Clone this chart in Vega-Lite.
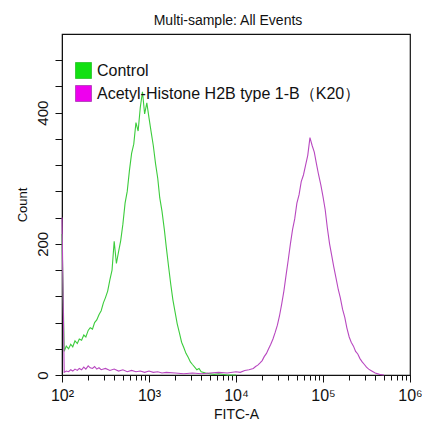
{
  "$schema": "https://vega.github.io/schema/vega-lite/v6.json",
  "width": 348,
  "height": 341,
  "autosize": {"type": "none"},
  "padding": {"left": 62, "top": 34, "right": 12, "bottom": 50},
  "background": "white",
  "title": {"text": "Multi-sample: All Events", "fontSize": 14, "font": "Liberation Sans", "fontWeight": "normal", "color": "#111", "offset": 6, "dx": -8},
  "config": {"view": {"stroke": "#111", "strokeWidth": 1.2}, "font": "Liberation Sans"},
  "data": {"values": [
    {"s":"C","x":1.00e2,"n":215},{"s":"C","x":1.06e2,"n":36},{"s":"C","x":1.12e2,"n":44},{"s":"C","x":1.19e2,"n":40},
    {"s":"C","x":1.26e2,"n":47},{"s":"C","x":1.33e2,"n":43},{"s":"C","x":1.41e2,"n":52},{"s":"C","x":1.50e2,"n":48},
    {"s":"C","x":1.58e2,"n":55},{"s":"C","x":1.68e2,"n":53},{"s":"C","x":1.78e2,"n":61},{"s":"C","x":1.88e2,"n":58},
    {"s":"C","x":2.00e2,"n":68},{"s":"C","x":2.11e2,"n":72},{"s":"C","x":2.24e2,"n":70},{"s":"C","x":2.37e2,"n":80},
    {"s":"C","x":2.51e2,"n":84},{"s":"C","x":2.66e2,"n":92},{"s":"C","x":2.82e2,"n":98},{"s":"C","x":2.99e2,"n":110},
    {"s":"C","x":3.16e2,"n":118},{"s":"C","x":3.35e2,"n":128},{"s":"C","x":3.55e2,"n":145},{"s":"C","x":3.76e2,"n":160},
    {"s":"C","x":3.98e2,"n":204},{"s":"C","x":4.22e2,"n":170},{"s":"C","x":4.47e2,"n":188},{"s":"C","x":4.73e2,"n":205},
    {"s":"C","x":5.01e2,"n":230},{"s":"C","x":5.31e2,"n":262},{"s":"C","x":5.62e2,"n":280},{"s":"C","x":5.96e2,"n":312},
    {"s":"C","x":6.31e2,"n":338},{"s":"C","x":6.68e2,"n":352},{"s":"C","x":7.08e2,"n":385},{"s":"C","x":7.50e2,"n":372},
    {"s":"C","x":7.94e2,"n":408},{"s":"C","x":8.41e2,"n":432},{"s":"C","x":8.91e2,"n":398},{"s":"C","x":9.44e2,"n":415},
    {"s":"C","x":1.00e3,"n":392},{"s":"C","x":1.06e3,"n":370},{"s":"C","x":1.12e3,"n":350},{"s":"C","x":1.19e3,"n":322},
    {"s":"C","x":1.26e3,"n":300},{"s":"C","x":1.33e3,"n":270},{"s":"C","x":1.41e3,"n":250},{"s":"C","x":1.50e3,"n":222},
    {"s":"C","x":1.58e3,"n":195},{"s":"C","x":1.68e3,"n":165},{"s":"C","x":1.78e3,"n":138},{"s":"C","x":1.88e3,"n":115},
    {"s":"C","x":2.00e3,"n":95},{"s":"C","x":2.11e3,"n":78},{"s":"C","x":2.24e3,"n":64},{"s":"C","x":2.37e3,"n":50},
    {"s":"C","x":2.51e3,"n":42},{"s":"C","x":2.66e3,"n":33},{"s":"C","x":2.82e3,"n":27},{"s":"C","x":2.99e3,"n":20},
    {"s":"C","x":3.16e3,"n":16},{"s":"C","x":3.35e3,"n":12},{"s":"C","x":3.55e3,"n":8},{"s":"C","x":3.76e3,"n":10},
    {"s":"C","x":3.98e3,"n":5},{"s":"C","x":4.47e3,"n":3},{"s":"C","x":5.01e3,"n":2},{"s":"C","x":5.62e3,"n":1},
    {"s":"C","x":6.31e3,"n":2},{"s":"C","x":7.94e3,"n":0},{"s":"C","x":1.00e4,"n":0},

    {"s":"A","x":1.00e2,"n":240},{"s":"A","x":1.06e2,"n":4},{"s":"A","x":1.12e2,"n":6},{"s":"A","x":1.19e2,"n":5},
    {"s":"A","x":1.26e2,"n":8},{"s":"A","x":1.33e2,"n":6},{"s":"A","x":1.41e2,"n":9},{"s":"A","x":1.50e2,"n":7},
    {"s":"A","x":1.58e2,"n":10},{"s":"A","x":1.68e2,"n":8},{"s":"A","x":1.78e2,"n":12},{"s":"A","x":1.88e2,"n":9},
    {"s":"A","x":2.00e2,"n":14},{"s":"A","x":2.11e2,"n":11},{"s":"A","x":2.24e2,"n":10},{"s":"A","x":2.37e2,"n":13},
    {"s":"A","x":2.51e2,"n":9},{"s":"A","x":2.66e2,"n":11},{"s":"A","x":2.82e2,"n":8},{"s":"A","x":3.16e2,"n":10},
    {"s":"A","x":3.55e2,"n":7},{"s":"A","x":3.98e2,"n":9},{"s":"A","x":4.47e2,"n":6},{"s":"A","x":5.01e2,"n":8},
    {"s":"A","x":5.62e2,"n":5},{"s":"A","x":6.31e2,"n":7},{"s":"A","x":7.08e2,"n":5},{"s":"A","x":7.94e2,"n":6},
    {"s":"A","x":8.91e2,"n":4},{"s":"A","x":1.00e3,"n":6},{"s":"A","x":1.12e3,"n":4},{"s":"A","x":1.26e3,"n":5},
    {"s":"A","x":1.41e3,"n":3},{"s":"A","x":1.58e3,"n":4},{"s":"A","x":2.00e3,"n":3},{"s":"A","x":2.51e3,"n":2},
    {"s":"A","x":3.16e3,"n":3},{"s":"A","x":3.98e3,"n":2},{"s":"A","x":5.01e3,"n":3},{"s":"A","x":6.31e3,"n":4},
    {"s":"A","x":7.94e3,"n":3},{"s":"A","x":1.00e4,"n":5},{"s":"A","x":1.12e4,"n":4},{"s":"A","x":1.26e4,"n":7},
    {"s":"A","x":1.41e4,"n":8},{"s":"A","x":1.58e4,"n":10},{"s":"A","x":1.68e4,"n":13},{"s":"A","x":1.78e4,"n":15},
    {"s":"A","x":1.88e4,"n":18},{"s":"A","x":2.00e4,"n":22},{"s":"A","x":2.11e4,"n":28},{"s":"A","x":2.24e4,"n":33},
    {"s":"A","x":2.37e4,"n":40},{"s":"A","x":2.51e4,"n":47},{"s":"A","x":2.66e4,"n":55},{"s":"A","x":2.82e4,"n":65},
    {"s":"A","x":2.99e4,"n":76},{"s":"A","x":3.16e4,"n":90},{"s":"A","x":3.35e4,"n":108},{"s":"A","x":3.55e4,"n":128},
    {"s":"A","x":3.76e4,"n":152},{"s":"A","x":3.98e4,"n":175},{"s":"A","x":4.22e4,"n":200},{"s":"A","x":4.47e4,"n":222},
    {"s":"A","x":4.73e4,"n":238},{"s":"A","x":5.01e4,"n":262},{"s":"A","x":5.31e4,"n":275},{"s":"A","x":5.62e4,"n":295},
    {"s":"A","x":5.96e4,"n":305},{"s":"A","x":6.31e4,"n":320},{"s":"A","x":6.68e4,"n":335},{"s":"A","x":7.08e4,"n":362},
    {"s":"A","x":7.50e4,"n":350},{"s":"A","x":7.94e4,"n":340},{"s":"A","x":8.41e4,"n":322},{"s":"A","x":8.91e4,"n":305},
    {"s":"A","x":9.44e4,"n":290},{"s":"A","x":1.00e5,"n":272},{"s":"A","x":1.06e5,"n":252},{"s":"A","x":1.12e5,"n":225},
    {"s":"A","x":1.19e5,"n":200},{"s":"A","x":1.26e5,"n":182},{"s":"A","x":1.33e5,"n":165},{"s":"A","x":1.41e5,"n":148},
    {"s":"A","x":1.50e5,"n":130},{"s":"A","x":1.58e5,"n":118},{"s":"A","x":1.68e5,"n":100},{"s":"A","x":1.78e5,"n":88},
    {"s":"A","x":1.88e5,"n":72},{"s":"A","x":2.00e5,"n":58},{"s":"A","x":2.11e5,"n":50},{"s":"A","x":2.24e5,"n":44},
    {"s":"A","x":2.37e5,"n":36},{"s":"A","x":2.51e5,"n":32},{"s":"A","x":2.66e5,"n":25},{"s":"A","x":2.82e5,"n":20},
    {"s":"A","x":2.99e5,"n":16},{"s":"A","x":3.16e5,"n":12},{"s":"A","x":3.35e5,"n":9},{"s":"A","x":3.55e5,"n":7},
    {"s":"A","x":3.76e5,"n":5},{"s":"A","x":3.98e5,"n":3},{"s":"A","x":4.47e5,"n":1},{"s":"A","x":5.01e5,"n":0}
  ]},
  "mark": {"type": "line", "strokeWidth": 1.1},
  "encoding": {
    "x": {
      "field": "x", "type": "quantitative",
      "scale": {"type": "log", "domain": [100, 1000000], "nice": false},
      "axis": {
        "title": "FITC-A", "titleFontSize": 14, "titleFontWeight": "normal", "titleColor": "#111", "titlePadding": 4,
        "grid": false, "domainColor": "#111", "tickColor": "#111",
        "values": [100,200,300,400,500,600,700,800,900,1000,2000,3000,4000,5000,6000,7000,8000,9000,10000,20000,30000,40000,50000,60000,70000,80000,90000,100000,200000,300000,400000,500000,600000,700000,800000,900000,1000000],
        "labelExpr": "datum.value == 100 ? '10²' : datum.value == 1000 ? '10³' : datum.value == 10000 ? '10⁴' : datum.value == 100000 ? '10⁵' : datum.value == 1000000 ? '10⁶' : ''",
        "labelFontSize": 16, "labelColor": "#111", "labelOverlap": false, "labelFlush": false, "labelPadding": 5,
        "tickSize": {"condition": {"test": "indexof([100,1000,10000,100000,1000000], datum.value) >= 0", "value": 7}, "value": 5}
      }
    },
    "y": {
      "field": "n", "type": "quantitative",
      "scale": {"domain": [0, 520], "nice": false},
      "axis": {
        "title": "Count", "titleFontSize": 13, "titleFontWeight": "normal", "titleColor": "#111", "titlePadding": 6,
        "grid": false, "domainColor": "#111", "tickColor": "#111", "tickSize": 7,
        "values": [0,40,80,120,160,200,240,280,320,360,400,440,480],
        "labelExpr": "datum.value % 200 == 0 ? datum.label : ''",
        "labelAngle": -90, "labelAlign": "center", "labelBaseline": "bottom",
        "labelFontSize": 15, "labelColor": "#111", "labelPadding": 5
      }
    },
    "color": {
      "field": "s", "type": "nominal",
      "scale": {"domain": ["C", "A"], "range": ["#3ccc3c", "#b848c0"]},
      "legend": {
        "title": null, "orient": "none", "legendX": 13, "legendY": 28, "padding": 0,
        "symbolType": "square", "symbolSize": 256, "symbolStrokeWidth": 1, "symbolStrokeColor": "#222", "rowPadding": 2, "labelOffset": 5,
        "labelFontSize": 16, "labelColor": "#111", "labelLimit": 400,
        "labelExpr": "datum.value == 'C' ? 'Control' : 'Acetyl-Histone H2B type 1-B（K20）'",
        "encode": {"symbols": {"update": {
          "fill": {"signal": "datum.value == 'C' ? '#11e011' : '#ee00ee'"},
          "stroke": {"value": "#222"},
          "strokeWidth": {"value": 1},
          "opacity": {"value": 1},
          "fillOpacity": {"value": 1}
        }}}
      }
    }
  }
}
